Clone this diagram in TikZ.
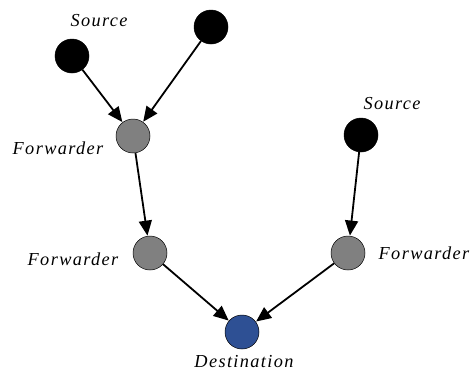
\documentclass[tikz,border=0pt]{standalone}
\usepackage{fontspec}
\setmainfont{Liberation Serif}
\newfontfamily\labelfont[LetterSpace=7.5]{Liberation Serif}
\usetikzlibrary{arrows.meta}
\definecolor{fwdgray}{RGB}{128,128,128}
\definecolor{dstblue}{RGB}{46,80,148}
\tikzset{
  peer/.style={circle, draw=black, line width=0.5pt, minimum size=34pt, inner sep=0pt},
  srcnode/.style={peer, fill=black},
  fwdnode/.style={peer, fill=fwdgray},
  dstnode/.style={peer, fill=dstblue},
  lbl/.style={font=\labelfont\fontsize{18.3}{20}\selectfont\itshape, inner sep=0pt},
  link/.style={line width=1.8pt, -{Triangle[length=15pt,width=13pt]}, shorten >=0.3pt}
}
\begin{document}
\begin{tikzpicture}[x=1pt, y=-1pt]
  \useasboundingbox (0,0) rectangle (471,373);
  % nodes
  \node[srcnode] (s1) at (72,56) {};
  \node[srcnode] (s2) at (211,27) {};
  \node[fwdnode] (f1) at (133,136) {};
  \node[fwdnode] (f2) at (150,253) {};
  \node[srcnode] (s3) at (361,135) {};
  \node[fwdnode] (f3) at (348,253) {};
  \node[dstnode] (d) at (242,332) {};
  % labels
  \node[lbl] (ls1) at (99,21) {Source};
  \node[lbl] (lf1) at (58,148) {Forwarder};
  \node[lbl] (lf2) at (73,259) {Forwarder};
  \node[lbl] (ls3) at (392,104) {Source};
  \node[lbl] (lf3) at (424,253) {Forwarder};
  \node[lbl] (ld) at (244,362) {Destination};
  % links
  \draw[link] (s1) -- (f1);
  \draw[link] (s2) -- (f1);
  \draw[link] (f1) -- (f2);
  \draw[link] (s3) -- (f3);
  \draw[link] (f2) -- (d);
  \draw[link] (f3) -- (d);
\end{tikzpicture}
\end{document}
